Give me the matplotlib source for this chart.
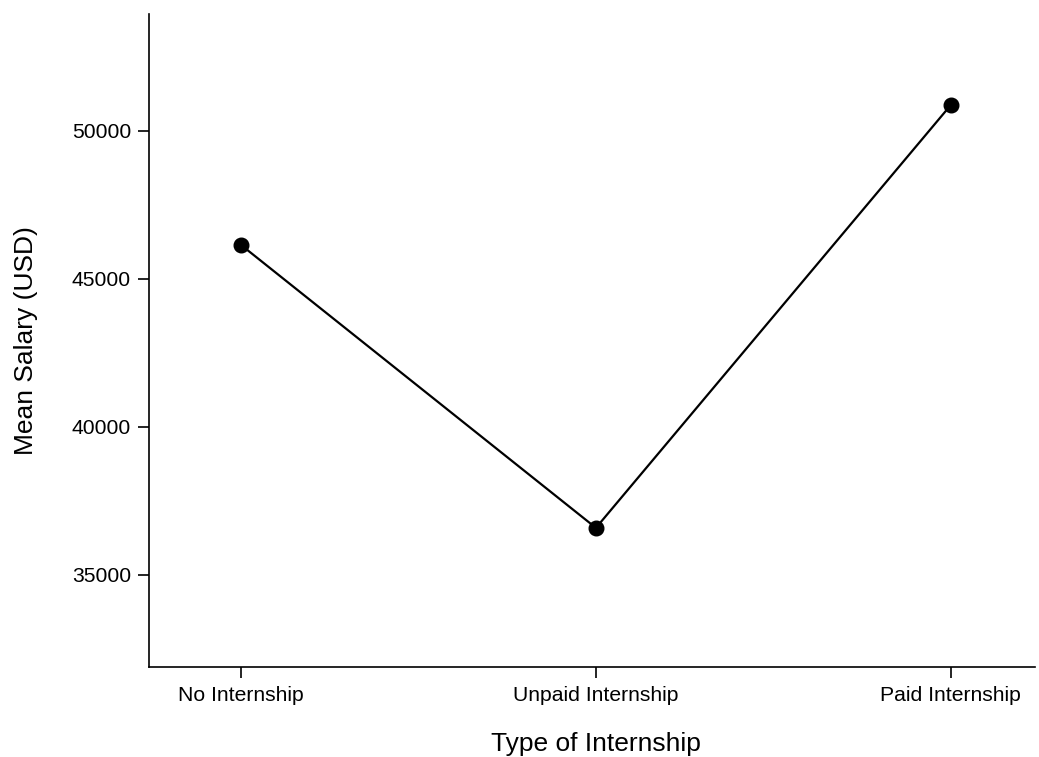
import matplotlib
matplotlib.use("Agg")
import matplotlib.pyplot as plt

plt.rcParams['font.family'] = ['Liberation Sans', 'DejaVu Sans']

categories = ['No Internship', 'Unpaid Internship', 'Paid Internship']
mean_salary = [46150, 36590, 50880]
yticks = [35000, 40000, 45000, 50000]

fig = plt.figure(figsize=(10.39, 7.57), dpi=100)
ax = fig.add_axes([0.1434, 0.1189, 0.9962 - 0.1434, 0.9815 - 0.1189])

x = list(range(1, len(categories) + 1))
ax.plot(x, mean_salary, color='black', lw=1.6, marker='o', ms=10.5)

ax.set_xlim(0.741, 3.237)
ax.set_ylim(31890, 53950)
ax.set_xticks(x)
ax.set_xticklabels(categories)
ax.set_yticks(yticks)
ax.tick_params(labelsize=15.2, length=8, width=1.2, pad=5)
ax.tick_params(axis='x', pad=6)
ax.spines['top'].set_visible(False)
ax.spines['right'].set_visible(False)
ax.spines['left'].set_linewidth(1.2)
ax.spines['bottom'].set_linewidth(1.2)
ax.set_xlabel('Type of Internship', fontsize=19)
ax.xaxis.set_label_coords(0.504, -0.099)
ax.set_ylabel('Mean Salary (USD)', fontsize=19, labelpad=24)

fig.savefig('out.png', dpi=100)
